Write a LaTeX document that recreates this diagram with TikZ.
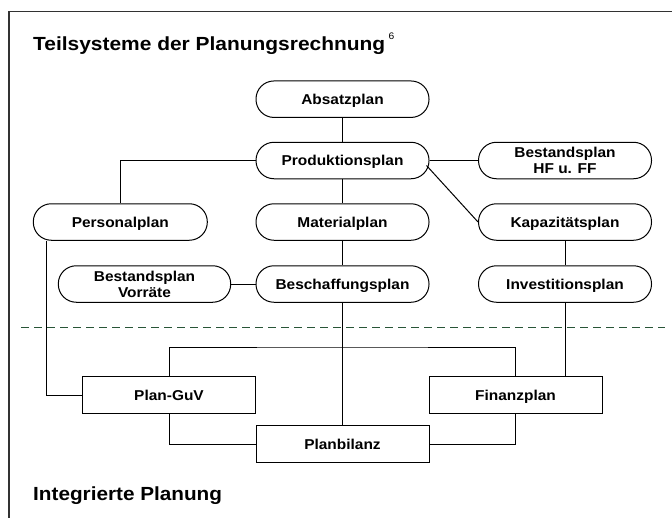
\documentclass[tikz,border=0pt]{standalone}
\usepackage{fontspec}
\setmainfont{Liberation Sans}[FakeStretch=1.08]
\usetikzlibrary{calc}
\definecolor{dashgreen}{RGB}{40,85,55}
\definecolor{framegray}{RGB}{50,50,50}
\begin{document}
\begin{tikzpicture}[x=1pt,y=-1pt,
  base/.style={draw=black, line width=1pt, minimum width=173pt, minimum height=36.5pt, inner sep=2pt,
    font=\fontsize{14.3}{16}\selectfont\bfseries, align=center},
  pill/.style={base, rounded corners=18pt},
  box/.style={base},
  one/.style={text height=10.3pt, text depth=0pt},
  conn/.style={line width=1pt, draw=black},
  heading/.style={anchor=base west, inner sep=0pt, font=\fontsize{19}{22}\selectfont\bfseries}]
\useasboundingbox (0,0) rectangle (672,517);
% frame
\coordinate (fb) at (9,522);
\coordinate (ftl) at (9,11.7);
\coordinate (ftr) at (677,11.7);
\draw[framegray, line width=1.3pt] (fb) -- (ftl) -- (ftr);
% headings
\node[heading] (title) at (33,50) {\scalebox{1.02}[1]{Teilsysteme der Planungsrechnung}};
\node[anchor=base west, inner sep=0pt, font=\fontsize{9.5}{10}\selectfont] (fn) at ($(title.base east)+(3,-10.5)$) {6};
\node[heading] (integ) at (33,500.7) {\scalebox{1.01}[1]{Integrierte Planung}};
% nodes
\node[pill,one] (absatz) at (342.5,99.2) {Absatzplan};
\node[pill,one] (prod) at (342.5,160.5) {Produktionsplan};
\node[pill] (besthf) at (565,160.5) {Bestandsplan\\HF u. FF};
\node[pill,one,minimum width=174pt] (pers) at (120.3,222) {Personalplan};
\node[pill,one] (mat) at (342.5,222) {Materialplan};
\node[pill,one] (kap) at (565,222) {Kapazitätsplan};
\node[pill,minimum width=172.4pt] (bestv) at (144.5,284) {Bestandsplan\\Vorräte};
\node[pill,one] (besch) at (342.5,284) {Beschaffungsplan};
\node[pill,one] (inv) at (565,284) {Investitionsplan};
\node[box,one,minimum height=37.4pt] (guv) at (169,395) {Plan-GuV};
\node[box,one,minimum height=37.4pt] (fin) at (515.5,395) {Finanzplan};
\node[box,one,minimum height=37pt] (bil) at (342.5,444.2) {Planbilanz};
% dashed separator
\coordinate (dl) at (21,327);
\coordinate (dr) at (665,327);
\draw[dashgreen, line width=1pt, dash pattern=on 8pt off 5pt] (dl) -- (dr);
% connectors
\draw[conn] (absatz.south) -- (prod.north);
\draw[conn] (prod.south) -- (mat.north);
\draw[conn] (mat.south) -- (besch.north);
\draw[conn] (besch.south) -- (bil.north);
\draw[conn] (prod.west) -| (pers.north);
\draw[conn] (prod.east) -- (besthf.west);
\draw[conn] ($(prod.east)+(-3,5)$) -- (kap.west);
\draw[conn] (bestv.east) -- (besch.west);
\draw[conn] (kap.south) -- (inv.north);
\draw[conn] (inv.south) -- (inv.south |- fin.north);
\coordinate (j) at (342.5,347);
\draw[conn] (guv.north) |- (j) -| (fin.north);
\draw[conn] (guv.south) |- (bil.west);
\draw[conn] (fin.south) |- (bil.east);
\coordinate (pb) at ($(pers.south)+(-73.6,0)$);
\draw[conn] (pb) |- (guv.west);
\end{tikzpicture}
\end{document}
